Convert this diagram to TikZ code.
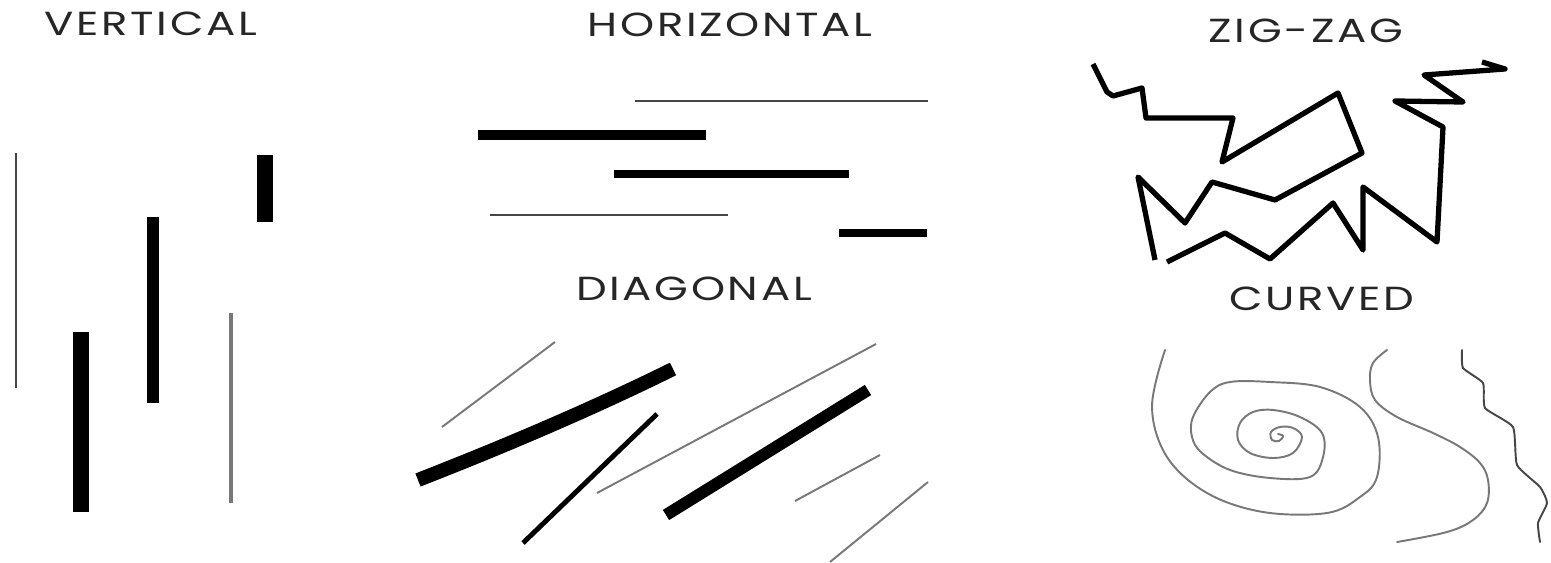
\documentclass[tikz,border=0pt]{standalone}
\usepackage{fontspec}
\setmainfont{Poppins}[FakeStretch=1.3,LetterSpace=8]
\usetikzlibrary{positioning}
\definecolor{InkBlack}{RGB}{0,0,0}
\definecolor{DarkPencil}{RGB}{70,70,70}
\definecolor{SoftPencil}{RGB}{120,120,120}
\tikzset{
  heading/.style={font=\fontsize{19}{20}\selectfont,inner sep=0pt,text=InkBlack!85},
  hairline/.style={draw=SoftPencil,line width=1.1pt},
  fineline/.style={draw=DarkPencil,line width=1.6pt},
  midline/.style={draw=InkBlack,line width=3.2pt},
  boldline/.style={draw=InkBlack,line width=6.8pt},
  heavyline/.style={draw=InkBlack,line width=9.6pt},
  zigline/.style={draw=InkBlack,line width=3pt,line join=round},
  curveline/.style={draw=SoftPencil,line width=1.1pt,line cap=round}
}

\begin{document}
\begin{tikzpicture}[x=0.02cm,y=-0.02cm]
  \useasboundingbox (0,0) rectangle (1551,563);

  % headings
  \node[heading] (vertical) at (151,24) {VERTICAL};
  \node[heading] (horizontal) at (730,25) {HORIZONTAL};
  \node[heading] (zigzag) at (1306,31) {ZIG-ZAG};
  \node[heading] (diagonal) at (694,289) {DIAGONAL};
  \node[heading] (curved) at (1322,299) {CURVED};

  % vertical
  \draw[fineline] (16,153) -- (16,388);
  \draw[heavyline] (81,332) -- (81,512);
  \draw[boldline] (153,217) -- (153,403);
  \draw[heavyline] (265,155) -- (265,222);
  \draw[hairline,line width=2.2pt] (231,313) -- (231,503);

  % horizontal
  \draw[hairline,draw=DarkPencil] (635,101) -- (928,101);
  \draw[midline,line width=5.7pt] (478,135) -- (706,135);
  \draw[midline,line width=4pt] (614,174) -- (849,174);
  \draw[hairline,draw=DarkPencil] (490,215) -- (728,215);
  \draw[midline,line width=5.1pt] (839,233) -- (927,233);

  % diagonal
  \draw[hairline] (442,427) -- (555,342);
  \draw[boldline,line width=8pt] (418,480) .. controls (500,448) and (590,410) .. (673,369);
  \draw[midline,line width=2.8pt] (523,543) -- (657,414);
  \draw[hairline] (597,493) -- (876,344);
  \draw[boldline] (666,515) -- (868,390);
  \draw[hairline] (795,501) -- (880,455);
  \draw[hairline] (830,562) -- (928,482);

  % zig-zag
  \draw[zigline] (1093,64) -- (1107,92) -- (1113,96) -- (1142,88) -- (1146,118)
    -- (1233,118) -- (1222,162) -- (1338,93) -- (1362,153) -- (1275,200)
    -- (1212,182) -- (1185,223) -- (1138,177) -- (1155,260);
  \draw[zigline] (1167,262) -- (1225,233) -- (1270,259) -- (1333,203) -- (1363,250)
    -- (1363,187) -- (1437,242) -- (1443,127) -- (1395,101) -- (1463,102)
    -- (1424,75) -- (1505,69) -- (1482,62);

  % curved
  \draw[curveline] plot[smooth,tension=0.6] coordinates {
    (1165,350) (1152,407) (1167,457) (1207,493) (1263,512) (1327,513)
    (1360,497) (1377,477) (1378,437) (1360,407) (1320,387) (1270,382)
    (1230,382) (1210,392) (1193,417) (1192,437) (1202,453) (1230,470)
    (1270,478) (1310,477) (1323,457) (1322,433) (1300,417) (1273,410)
    (1253,412) (1240,423) (1238,440) (1250,453) (1273,458) (1293,453)
    (1302,437) (1293,428) (1280,427) (1271,432) (1272,440) (1279,441)
    (1283,436) (1278,434)};
  \draw[curveline] plot[smooth,tension=0.6] coordinates {
    (1387,350) (1373,363) (1370,380) (1375,400) (1397,417) (1433,433)
    (1460,447) (1480,463) (1488,480) (1487,503) (1473,520) (1447,532)
    (1397,542)};
  \draw[curveline,draw=DarkPencil] plot[smooth,tension=0.3] coordinates {
    (1462,350) (1463,368) (1483,383) (1485,408) (1513,427) (1517,465)
    (1540,487) (1547,503) (1538,523) (1540,542)};
\end{tikzpicture}
\end{document}
